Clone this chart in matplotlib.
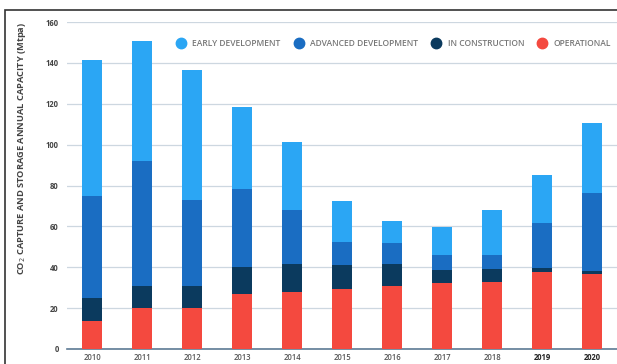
import numpy as np
import matplotlib.pyplot as plt
from matplotlib.patches import Rectangle
from matplotlib.lines import Line2D

annees = ["2010", "2011", "2012", "2013", "2014", "2015", "2016", "2017", "2018", "2019", "2020"]

# Capacité par stade (Mtpa), valeurs propres à chaque stade
operationnel = [13.5, 20.2, 20.2, 27.1, 28.1, 29.5, 30.7, 32.3, 33.0, 37.5, 36.5]
construction = [11.5, 10.8, 10.8, 12.9, 13.5, 11.6, 11.1, 6.2, 6.0, 2.3, 1.8]
avance = [50.0, 60.8, 42.1, 38.3, 26.3, 11.4, 10.2, 7.3, 7.0, 21.8, 37.9]
precoce = [66.5, 58.9, 63.6, 39.9, 33.4, 19.8, 10.6, 13.7, 22.0, 23.7, 34.6]

stades = ["EARLY DEVELOPMENT", "ADVANCED DEVELOPMENT", "IN CONSTRUCTION", "OPERATIONAL"]
couleurs = ["#2ba6f4", "#1a6dc2", "#0b3a5e", "#f4493f"]

plt.rcParams['font.family'] = ['Open Sans', 'DejaVu Sans']

fig = plt.figure(figsize=(6.17, 3.64), dpi=100)
ax = fig.add_axes([67 / 617, 15 / 364, 550 / 617, 327 / 364])

x = np.arange(len(annees))
largeur = 0.4
bas = np.zeros(len(annees))
for valeurs, couleur in zip([operationnel, construction, avance, precoce],
                            [couleurs[3], couleurs[2], couleurs[1], couleurs[0]]):
    ax.bar(x, valeurs, largeur, bottom=bas, color=couleur, zorder=3)
    bas += np.array(valeurs)

ax.set_xlim(-0.5, 10.5)
ax.set_ylim(0, 160)
ax.set_yticks(np.arange(0, 161, 20))
ax.yaxis.grid(True, color="#cdd7e0", linewidth=0.9, zorder=0)
for s in ["top", "right", "left"]:
    ax.spines[s].set_visible(False)
ax.spines["bottom"].set_color("#5d7a94")
ax.spines["bottom"].set_linewidth(1.2)
ax.tick_params(length=0)
ax.tick_params(axis="x", pad=3)
ax.tick_params(axis="y", pad=6)
ax.set_xticks(x)
ax.set_xticklabels(annees)
for lab in ax.get_yticklabels():
    lab.set_fontsize(5.5)
    lab.set_fontweight("bold")
    lab.set_color("#444444")
for lab in ax.get_xticklabels():
    lab.set_fontsize(5.5)
    lab.set_fontweight("bold" if lab.get_text() in ("2019", "2020") else "semibold")
    lab.set_color("#222222" if lab.get_text() in ("2019", "2020") else "#555555")

fig.text(22 / 617, 1 - 148 / 364, "CO$_2$ CAPTURE AND STORAGE ANNUAL CAPACITY (Mtpa)",
         fontsize=6.7, fontweight="bold", color="#444444", rotation=90,
         ha="center", va="center")

poignees = [Line2D([], [], marker="o", linestyle="", markersize=7.5,
                   markerfacecolor=c, markeredgecolor=c) for c in couleurs]
leg = ax.legend(poignees, stades, loc="upper left", bbox_to_anchor=(0.1745, 0.977),
                ncol=4, frameon=False, fontsize=6.1, handletextpad=0.35,
                columnspacing=1.15, borderpad=0.6)
for t in leg.get_texts():
    t.set_color("#777777")
    t.set_fontweight("semibold")
leg.set_zorder(5)

# cadre autour du graphique
fig.patches.append(Rectangle((5 / 617, -0.1), 1.2, (364 - 10) / 364 + 0.1,
                             transform=fig.transFigure, fill=False,
                             edgecolor="#333333", linewidth=1.2))

fig.savefig("out.png", dpi=100)
